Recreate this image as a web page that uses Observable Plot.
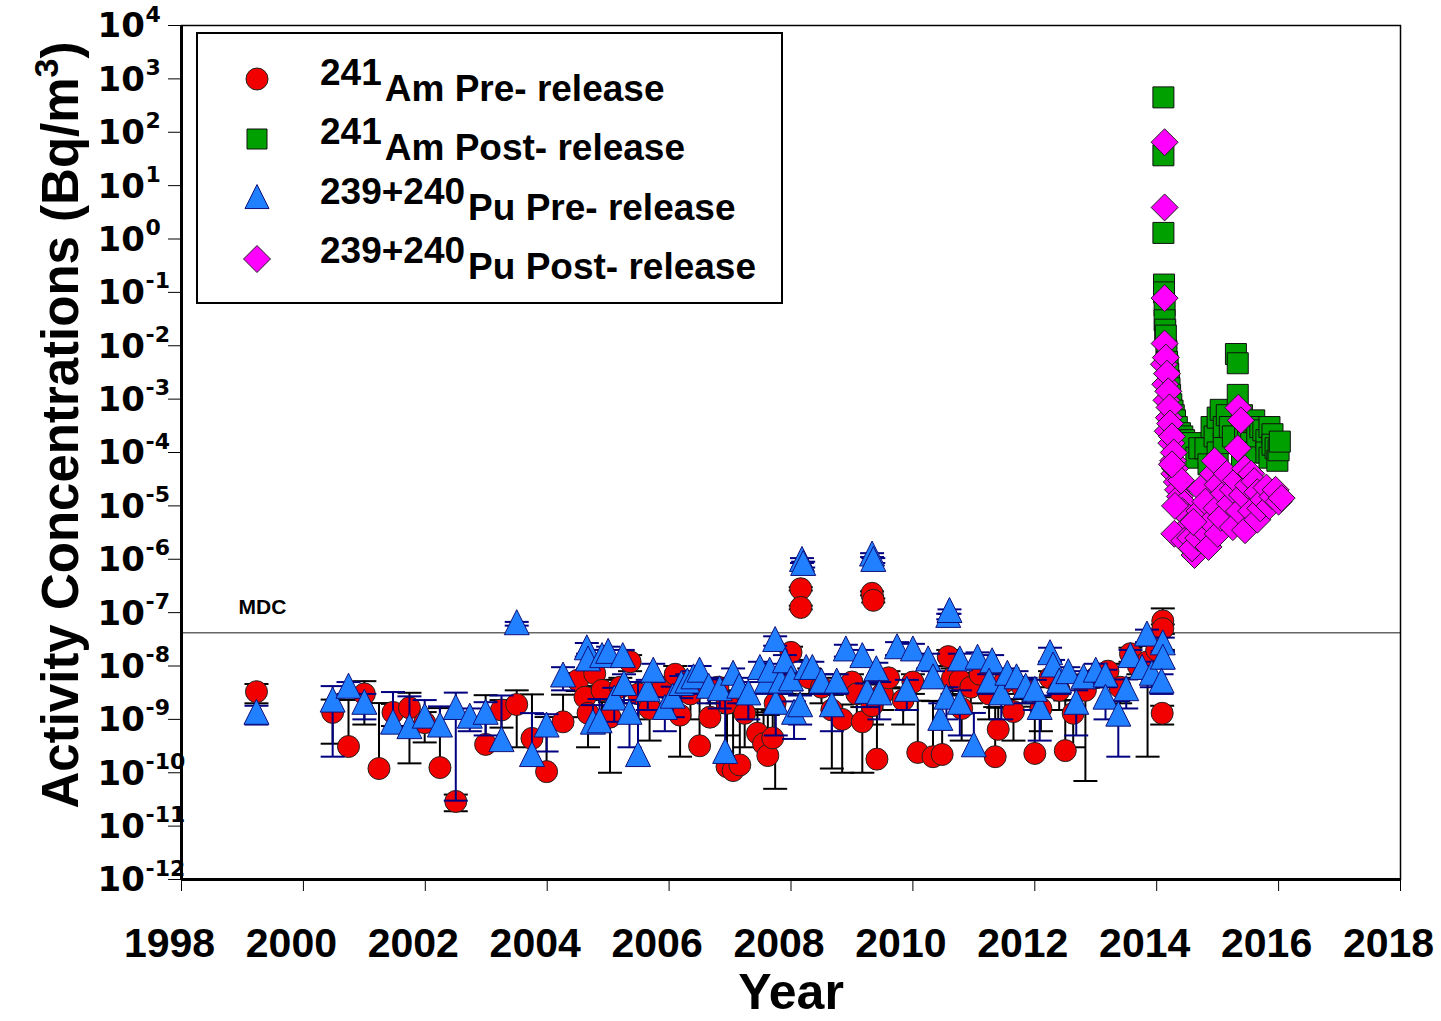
<!DOCTYPE html>
<html><head><meta charset="utf-8">
<script src="https://cdn.jsdelivr.net/npm/d3@7"></script>
<script src="https://cdn.jsdelivr.net/npm/@observablehq/plot@0.6"></script>
<style>body{margin:0;background:#fff;} #chart{width:1441px;height:1021px;}</style>
</head><body><div id="chart"></div>
<script>
// ---------- data ----------
const xTicks = [1998,2000,2002,2004,2006,2008,2010,2012,2014,2016,2018];
const yExps = [4,3,2,1,0,-1,-2,-3,-4,-5,-6,-7,-8,-9,-10,-11,-12];
const mdcValue = 4.2e-8;
const mdcLabel = "MDC";
const seriesNames = ["Am Pre- release","Am Post- release","Pu Pre- release","Pu Post- release"];
const seriesIsotopes = ["241","241","239+240","239+240"];

const amPreYear = [1999.23,2000.48,2000.74,2001.00,2001.24,2001.47,2001.74,2001.99,2002.24,2002.50,2002.99,2003.25,2003.50,2003.75,2003.99,2004.26,2004.50,2004.62,2004.67,2004.78,2004.90,2005.03,2005.20,2005.36,2005.50,2005.68,2005.90,2006.10,2006.18,2006.35,2006.50,2006.67,2006.80,2006.95,2006.95,2007.05,2007.16,2007.24,2007.45,2007.55,2007.62,2007.70,2007.74,2007.90,2008.00,2008.16,2008.16,2008.30,2008.50,2008.67,2008.84,2009.00,2009.08,2009.17,2009.33,2009.35,2009.33,2009.41,2009.50,2009.60,2009.84,2010.00,2010.08,2010.33,2010.48,2010.58,2010.65,2010.77,2010.80,2010.95,2011.10,2011.25,2011.35,2011.40,2011.50,2011.65,2011.80,2012.00,2012.10,2012.25,2012.40,2012.50,2012.63,2012.83,2013.00,2013.20,2013.40,2013.57,2013.70,2013.85,2014.00,2014.10,2014.10,2014.09];
const amPreVal = [3.3e-9,1.35e-9,3.1e-10,3.0e-9,1.2e-10,1.35e-9,1.65e-9,8.7e-10,1.25e-10,2.9e-11,3.4e-10,1.5e-9,1.9e-9,4.4e-10,1.05e-10,9.0e-10,5.4e-9,2.6e-9,1.3e-9,7.2e-9,3.5e-9,1.1e-9,4.0e-9,1.2e-8,3.0e-9,1.6e-9,4.0e-9,7.0e-9,1.2e-9,3.0e-9,3.2e-10,1.1e-9,4.0e-9,2.0e-9,1.3e-10,1.1e-10,1.4e-10,1.3e-9,5.5e-10,3.5e-10,2.1e-10,4.5e-10,2.0e-9,5.0e-9,1.8e-8,2.8e-7,1.25e-7,6.0e-9,4.0e-9,1.5e-9,1.0e-9,5.0e-9,3.0e-9,9.0e-10,2.3e-7,1.7e-7,1.8e-9,1.8e-10,3.0e-9,6.0e-9,2.3e-9,5.0e-9,2.4e-10,2.0e-10,2.2e-10,1.5e-8,6.0e-9,5.4e-9,1.6e-9,4.0e-9,7.0e-9,3.0e-9,2.0e-10,6.5e-10,5.0e-9,1.4e-9,4.0e-9,2.3e-10,1.6e-9,6.0e-9,3.5e-9,2.6e-10,1.3e-9,3.5e-9,6.0e-9,8.0e-9,4.0e-9,1.7e-8,1.0e-8,1.2e-8,2.0e-8,7.0e-8,5.0e-8,1.3e-9];
const amPreErr = [1.3e-9,1.0e-9,2.0e-9,2.2e-9,1.9e-9,0.6e-9,1.5e-9,0.5e-9,1.5e-9,1.0e-11,2.5e-9,0.8e-9,1.6e-9,2.5e-9,1.0e-9,2.0e-9,2.0e-9,1.5e-9,1.0e-9,3.0e-9,2.0e-9,1.0e-9,2.0e-9,4.0e-9,2.0e-9,1.2e-9,2.0e-9,3.0e-9,1.0e-9,2.0e-9,3.0e-9,1.5e-9,2.0e-9,1.5e-9,1.5e-9,1.2e-9,1.2e-9,1.0e-9,1.0e-9,1.0e-9,1.0e-9,1.0e-9,1.95e-9,2.0e-9,5.0e-9,2.0e-8,1.0e-8,3.0e-9,2.0e-9,1.38e-9,0.9e-9,2.0e-9,2.0e-9,0.8e-9,2.0e-8,1.5e-8,1.0e-9,2.0e-9,1.5e-9,2.0e-9,1.5e-9,2.0e-9,2.0e-9,2.0e-9,2.0e-9,5.0e-9,3.0e-9,2.0e-9,1.2e-9,2.0e-9,3.0e-9,2.0e-9,1.5e-9,1.0e-9,2.0e-9,1.0e-9,2.0e-9,1.5e-9,1.0e-9,2.0e-9,2.0e-9,2.0e-9,1.0e-9,3.43e-9,2.0e-9,3.0e-9,2.0e-9,5.0e-9,3.0e-9,1.18e-8,6.0e-9,5.0e-8,1.0e-8,0.5e-9];

const puPreYear = [1999.23,2000.48,2000.74,2001.00,2001.47,2001.74,2001.99,2002.24,2002.50,2002.73,2002.99,2003.25,2003.50,2003.75,2003.99,2004.26,2004.65,2004.67,2004.75,2004.86,2004.90,2005.00,2005.10,2005.24,2005.26,2005.35,2005.49,2005.65,2005.74,2005.93,2006.06,2006.20,2006.30,2006.40,2006.50,2006.65,2006.83,2006.92,2007.05,2007.15,2007.30,2007.49,2007.60,2007.65,2007.74,2007.75,2007.83,2007.90,2008.00,2008.05,2008.18,2008.20,2008.15,2008.25,2008.35,2008.50,2008.67,2008.75,2008.90,2009.17,2009.25,2009.33,2009.35,2009.40,2009.45,2009.74,2010.00,2009.90,2010.25,2010.33,2010.45,2010.55,2010.58,2010.60,2010.77,2010.77,2011.00,2011.06,2011.30,2011.25,2011.45,2011.55,2011.70,2011.85,2012.08,2012.00,2012.25,2012.30,2012.40,2012.55,2012.68,2012.80,2013.00,2013.16,2013.16,2013.37,2013.50,2013.57,2013.76,2013.84,2013.92,2014.10,2014.10,2014.08];
const puPreVal = [1.3e-9,2.2e-9,4.0e-9,2.0e-9,8.5e-10,7.0e-10,1.1e-9,7.5e-10,1.6e-9,1.1e-9,1.3e-9,4.0e-10,6.2e-8,2.1e-10,7.5e-10,6.5e-9,2.1e-8,1.3e-8,8.5e-10,9.0e-10,1.5e-8,1.8e-8,2.4e-9,1.5e-8,4.5e-9,1.3e-9,2.1e-10,3.5e-9,8.0e-9,1.6e-9,2.6e-9,4.5e-9,5.0e-9,6.0e-9,8.0e-9,4.0e-9,3.6e-9,2.4e-10,7.0e-9,4.0e-9,3.0e-9,9.0e-9,5.0e-9,8.0e-9,3.0e-8,2.0e-9,5.0e-9,1.2e-8,5.5e-9,1.3e-9,9.5e-7,8.0e-7,1.8e-9,9.0e-9,9.0e-9,5.0e-9,1.8e-9,5.0e-9,2.0e-8,1.5e-8,3.2e-9,1.2e-6,9.5e-7,8.5e-9,3.0e-9,2.2e-8,2.0e-8,3.5e-9,1.3e-8,6.0e-9,1.0e-9,2.5e-9,8.5e-8,1.05e-7,1.3e-8,2.0e-9,3.2e-10,1.4e-8,1.2e-8,5.0e-9,3.0e-9,7.0e-9,6.0e-9,4.0e-9,1.6e-9,3.5e-9,1.7e-8,1.0e-8,5.0e-9,7.5e-9,2.0e-9,6.0e-9,8.0e-9,6.5e-9,2.5e-9,1.2e-9,3.6e-9,1.5e-8,9.0e-9,3.8e-8,7.0e-9,2.6e-8,1.4e-8,5.0e-9];
const puPreErr = [0.5e-9,2.0e-9,1.0e-9,1.0e-9,2.4e-9,2.0e-9,1.2e-9,1.0e-9,1.57e-9,0.5e-9,0.8e-9,2.4e-9,5.0e-9,1.1e-9,0.5e-9,3.0e-9,6.0e-9,4.0e-9,1.0e-9,1.5e-9,5.0e-9,5.0e-9,1.5e-9,5.0e-9,2.5e-9,1.0e-9,4.8e-9,2.0e-9,3.0e-9,1.0e-9,1.5e-9,2.0e-9,2.0e-9,2.0e-9,2.0e-9,2.0e-9,2.0e-9,3.0e-9,2.0e-9,2.0e-9,2.0e-9,3.0e-9,2.0e-9,3.0e-9,6.0e-9,1.5e-9,2.0e-9,4.0e-9,2.0e-9,0.87e-9,1.0e-7,1.0e-7,1.0e-9,3.0e-9,3.0e-9,2.0e-9,1.2e-9,2.0e-9,5.0e-9,5.0e-9,1.5e-9,1.0e-7,1.0e-7,3.0e-9,2.0e-9,6.0e-9,6.0e-9,2.0e-9,4.0e-9,2.0e-9,1.0e-9,1.5e-9,1.0e-8,1.0e-8,4.0e-9,1.5e-9,1.0e-9,4.0e-9,4.0e-9,2.0e-9,2.0e-9,2.0e-9,2.0e-9,2.0e-9,1.2e-9,2.0e-9,5.0e-9,3.0e-9,2.0e-9,2.0e-9,1.5e-9,2.0e-9,3.0e-9,2.0e-9,1.5e-9,1.0e-9,2.0e-9,5.0e-9,3.0e-9,1.0e-8,3.0e-9,8.0e-9,5.0e-9,2.0e-9];

const amPostYear = [2014.11,2014.11,2014.11,2014.12,2014.12,2014.13,2014.13,2014.14,2014.15,2014.16,2014.17,2014.18,2014.19,2014.20,2014.21,2014.22,2014.24,2014.26,2014.28,2014.30,2014.33,2014.38,2014.42,2014.45,2014.58,2014.65,2014.70,2014.80,2014.85,2014.90,2014.95,2015.00,2015.00,2015.05,2015.10,2015.10,2015.15,2015.20,2015.25,2015.30,2015.33,2015.33,2015.40,2015.40,2015.45,2015.50,2015.55,2015.60,2015.60,2015.65,2015.70,2015.75,2015.80,2015.80,2015.85,2015.85,2015.90,2015.90,2015.95,2015.98,2016.00,2016.02];
const amPostVal = [450,37,1.3,0.14,0.1,0.057,0.03,0.02,0.0155,8e-3,5e-3,4.2e-3,3e-3,2.2e-3,1.6e-3,1.2e-3,8e-4,6.1e-4,5e-4,4e-4,3e-4,2.3e-4,2e-4,1.7e-4,1.5e-4,8e-5,1.2e-4,1.2e-4,6e-5,3e-4,2e-4,4.5e-4,1e-4,6.3e-4,1.5e-4,3e-4,5e-4,3e-4,2e-4,7e-3,4.7e-3,1.2e-3,5e-4,8e-5,2e-4,3e-4,1.5e-4,4e-4,1e-4,2e-4,3e-4,2.6e-4,1.7e-4,1e-4,8e-5,3e-4,2.2e-4,1.4e-4,1.2e-4,7e-5,1.1e-4,1.6e-4];

const puPostYear = [2014.13,2014.13,2014.13,2014.13,2014.12,2014.15,2014.14,2014.17,2014.16,2014.19,2014.20,2014.21,2014.18,2014.22,2014.24,2014.25,2014.27,2014.28,2014.29,2014.30,2014.33,2014.35,2014.38,2014.45,2014.42,2014.53,2014.50,2014.29,2014.45,2014.55,2014.62,2014.58,2014.68,2014.77,2014.85,2014.70,2014.72,2014.80,2014.88,2014.92,2014.95,2014.98,2015.00,2015.00,2015.05,2015.10,2015.15,2015.20,2015.25,2015.25,2015.33,2015.34,2015.38,2015.30,2015.35,2015.40,2015.45,2015.45,2015.50,2015.55,2015.55,2015.60,2015.65,2015.65,2015.70,2015.75,2015.80,2015.85,2015.90,2015.95,2016.00,2016.05,2014.60,2014.40,2014.30,2014.25];
const puPostVal = [65,3.9,0.078,0.011,4.5e-3,6e-3,1.9e-3,3e-3,9.5e-4,1.4e-3,4.5e-4,7e-4,2.5e-4,3.5e-4,1.5e-4,2e-4,7e-5,1e-4,4e-5,5e-5,2.8e-5,2e-5,1.5e-5,1.1e-5,8e-6,6e-6,4e-6,3e-6,2.2e-6,2.5e-6,1.2e-6,1.6e-6,2.5e-6,3.4e-6,1.7e-6,8e-6,2.1e-5,1.2e-5,5e-6,4e-5,7e-5,9e-6,2.5e-5,3e-6,6e-6,1.7e-5,4e-5,1.1e-5,2e-5,4e-6,1.2e-4,6.9e-4,4e-4,3e-5,8e-6,1.6e-5,5e-5,3.5e-6,2.4e-5,4e-5,8e-6,2.9e-5,5.5e-6,1.8e-5,9e-6,1.3e-5,2.2e-5,1e-5,1.5e-5,2e-5,1.2e-5,1.4e-5,5e-6,3e-5,1e-5,6e-5];

// ---------- styling ----------
const COL = {amPre:"#f20000", amPost:"#00a000", puPre:"#2080ff", puPost:"#ff00ff"};
const FONT = "Arial, 'Liberation Sans', sans-serif";

const rad = s => Math.sqrt(s / Math.PI);
const capSym = {draw(c, s){ const r = rad(s); c.moveTo(-r, 0); c.lineTo(r, 0); }};
const triSym = {draw(c, s){ const r = rad(s); c.moveTo(0, -1.12*r); c.lineTo(r, 0.88*r); c.lineTo(-r, 0.88*r); c.closePath(); }};
const diaSym = {draw(c, s){ const r = rad(s); c.moveTo(0, -r); c.lineTo(r, 0); c.lineTo(0, r); c.lineTo(-r, 0); c.closePath(); }};
const sqSym  = {draw(c, s){ const r = rad(s); c.rect(-r, -r, 2*r, 2*r); }};
const cirSym = {draw(c, s){ const r = rad(s); c.moveTo(r, 0); c.arc(0, 0, r, 0, 2*Math.PI); }};

function toRows(years, vals, errs) {
  return years.map((x, i) => {
    const y = vals[i], e = errs ? errs[i] : 0;
    return {x, y, hi: y + e, lo: (y - e > 0) ? y - e : null};
  });
}
const amPre = toRows(amPreYear, amPreVal, amPreErr);
const puPre = toRows(puPreYear, puPreVal, puPreErr);
const amPost = toRows(amPostYear, amPostVal, null);
const puPost = toRows(puPostYear, puPostVal, null);

function errMarks(rows, color) {
  return [
    Plot.ruleX(rows, {x: "x", y1: d => d.lo ?? d.y, y2: "hi", stroke: color, strokeWidth: 2}),
    Plot.dot(rows, {x: "x", y: "hi", symbol: capSym, r: 12, stroke: color, strokeWidth: 2, fill: "none"}),
    Plot.dot(rows.filter(d => d.lo != null), {x: "x", y: "lo", symbol: capSym, r: 12, stroke: color, strokeWidth: 2, fill: "none"})
  ];
}

const plot = Plot.plot({
  width: 1441, height: 1021,
  marginLeft: 181, marginRight: 41, marginTop: 25, marginBottom: 142,
  style: {fontFamily: FONT, background: "white", overflow: "visible", color: "black"},
  x: {domain: [1998, 2018], ticks: xTicks, tickFormat: () => "", tickSize: 12, label: null},
  y: {type: "log", domain: [1e-12, 1e4], ticks: yExps.map(e => Math.pow(10, e)), tickFormat: () => "", tickSize: 13, label: null},
  marks: [
    Plot.ruleY([mdcValue], {stroke: "#666", strokeWidth: 1.5}),
    Plot.text([mdcLabel], {y: () => mdcValue, frameAnchor: "left", dx: 57, dy: -25, textAnchor: "start", text: d => d, fontSize: 21, fontWeight: "bold", fontFamily: FONT}),
    ...errMarks(amPre, "black"),
    Plot.dot(amPre, {x: "x", y: "y", symbol: cirSym, r: 11, fill: COL.amPre, stroke: "#222", strokeWidth: 1}),
    ...errMarks(puPre, "#000080"),
    Plot.dot(puPre, {x: "x", y: "y", symbol: triSym, r: 12.5, fill: COL.puPre, stroke: "#10107a", strokeWidth: 1}),
    Plot.dot(amPost, {x: "x", y: "y", symbol: sqSym, r: 10.5, fill: COL.amPost, stroke: "#111", strokeWidth: 1}),
    Plot.dot(puPost, {x: "x", y: "y", symbol: diaSym, r: 13.5, fill: COL.puPost, stroke: "#222", strokeWidth: 1}),
    // axis tick labels
    Plot.text(yExps, {y: d => Math.pow(10, d), frameAnchor: "left", dx: -84, dy: 1, textAnchor: "start", text: () => "10", fontSize: 34, fontWeight: "bold", fontFamily: "'DejaVu Sans', sans-serif"}),
    Plot.text(yExps, {y: d => Math.pow(10, d), frameAnchor: "left", dx: -36, dy: -11, textAnchor: "start", text: d => String(d), fontSize: 22, fontWeight: "bold", fontFamily: "'DejaVu Sans', sans-serif"}),
    Plot.text(xTicks, {x: d => d, frameAnchor: "bottom", dy: 77, dx: -12, text: d => String(d), fontSize: 41, fontWeight: "bold", fontFamily: FONT}),
    Plot.text(["Year"], {frameAnchor: "bottom", dy: 129, text: d => d, fontSize: 50, fontWeight: "bold", fontFamily: FONT}),
    Plot.frame({stroke: "black", strokeWidth: 1.5}),
    Plot.ruleX([1998], {stroke: "black", strokeWidth: 3}),
    Plot.ruleY([1e-12], {stroke: "black", strokeWidth: 3})
  ]
});

const svg = d3.select(plot);
// y-axis title with superscript
const yt = svg.append("text")
  .attr("transform", "translate(78,425) rotate(-90)")
  .attr("text-anchor", "middle").attr("font-size", 51).attr("font-weight", "bold")
  .attr("font-family", FONT).attr("fill", "black");
yt.append("tspan").text("Activity Concentrations (Bq/m");
yt.append("tspan").attr("dy", -20).attr("font-size", 34).text("3");
yt.append("tspan").attr("dy", 20).text(")");

// legend
const lg = svg.append("g").attr("font-family", FONT).attr("font-weight", "bold").attr("text-anchor", "start");
lg.append("rect").attr("x", 197).attr("y", 33).attr("width", 585).attr("height", 270)
  .attr("fill", "white").attr("stroke", "black").attr("stroke-width", 2);
const legendSyms = [
  {sym: cirSym, r: 11, fill: COL.amPre, stroke: "#222"},
  {sym: sqSym, r: 10, fill: COL.amPost, stroke: "#111"},
  {sym: triSym, r: 12, fill: COL.puPre, stroke: "#10107a"},
  {sym: diaSym, r: 13.5, fill: COL.puPost, stroke: "#222"}
];
const rowY = [79, 139, 198, 259];
const baseY = [101, 160, 220, 279];
seriesNames.forEach((name, i) => {
  const s = legendSyms[i];
  lg.append("path").attr("transform", `translate(257,${rowY[i]})`)
    .attr("d", d3.symbol().type(s.sym).size(s.r * s.r * Math.PI)())
    .attr("fill", s.fill).attr("stroke", s.stroke).attr("stroke-width", 1);
  const t = lg.append("text").attr("x", 320).attr("y", baseY[i]).attr("font-size", 37)
    .attr("fill", "black").attr("text-anchor", "start");
  t.append("tspan").attr("dy", -16).text(seriesIsotopes[i]);
  t.append("tspan").attr("dy", 16).attr("dx", 3).text(name);
});

document.getElementById("chart").appendChild(plot);
</script>
</body></html>
